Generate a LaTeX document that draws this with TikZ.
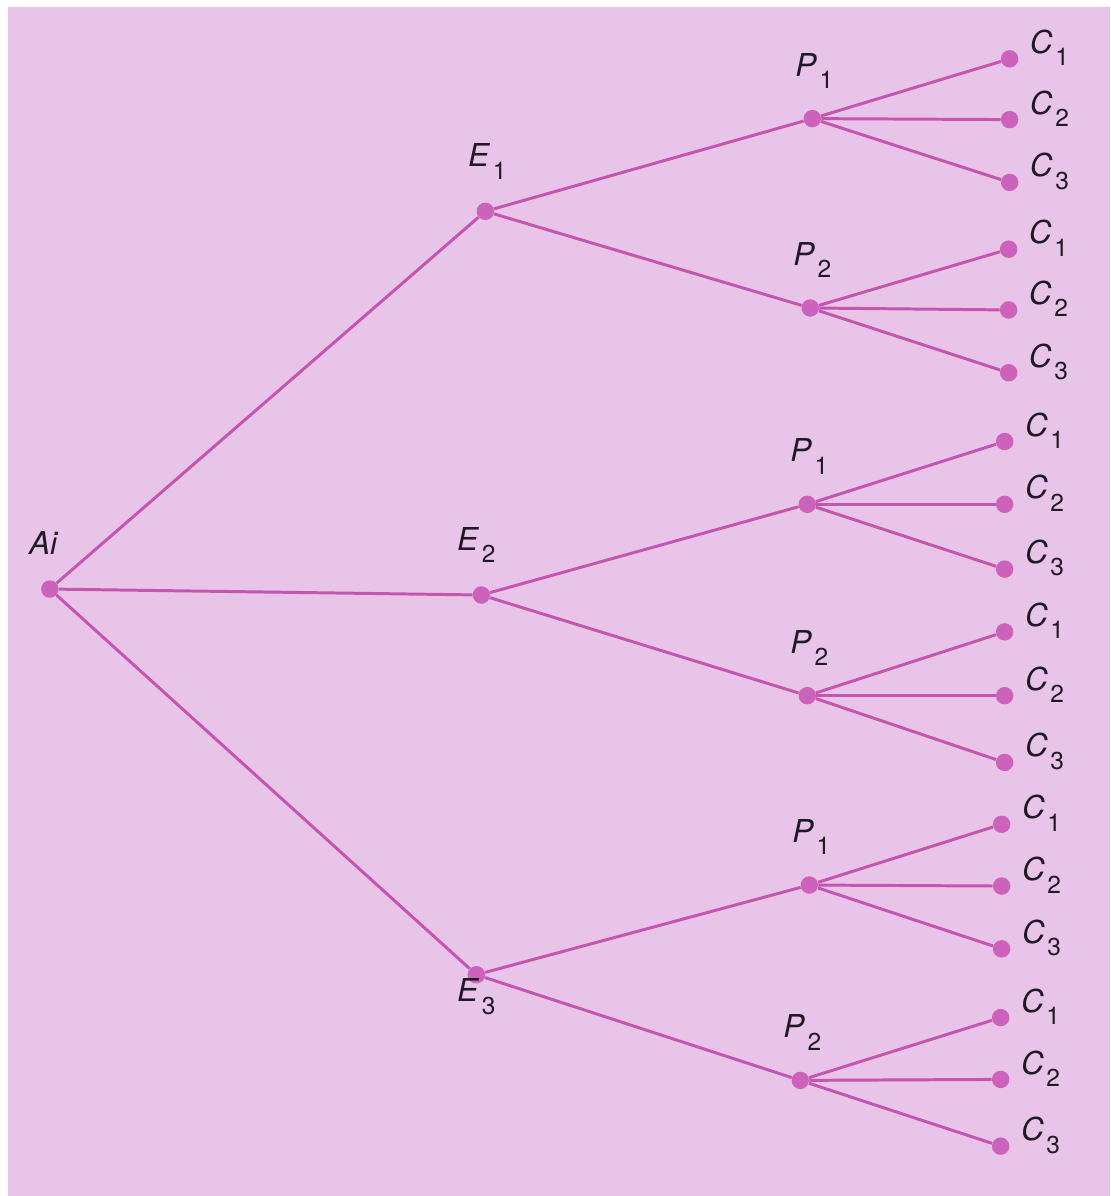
\documentclass[tikz,border=0pt]{standalone}
\usepackage{fontspec}
\setmainfont{TeX Gyre Heros}
\usepackage{tikz}
\usetikzlibrary{calc}
\definecolor{bgpink}{RGB}{232,196,232}
\definecolor{stem}{RGB}{196,86,176}
\definecolor{knob}{RGB}{204,98,186}
\definecolor{ink}{RGB}{30,25,35}
\newcommand{\tl}[2]{\textit{#1}\kern1.5pt\raisebox{-0.75ex}{\fontsize{14}{14}\selectfont #2}}

\begin{document}
\begin{tikzpicture}[x=0.02cm,y=-0.02cm,
    knot/.style={circle,fill=knob,inner sep=0pt,minimum size=0.35cm},
    branch/.style={stem,line width=1.7pt},
    lab/.style={text=ink,font=\fontsize{18}{21}\selectfont,inner sep=0pt}]
  % page with white strip on top and left
  \fill[white] (0,0) rectangle (1110,1196);
  \fill[bgpink] (8,7) rectangle (1114,1200);
  \useasboundingbox (0,0) rectangle (1110,1196);

  % root and first level
  \node[knot] (A) at (50,591) {};
  \node[knot] (E1) at (487,212) {};
  \node[knot] (E2) at (483,597) {};
  \node[knot] (E3) at (478,978) {};
  \draw[branch] (A) -- (E1);
  \draw[branch] (A) -- (E2);
  \draw[branch] (A) -- (E3);
  \node[lab] at ($(A)+(-6,-46)$) {\textit{Ai}};
  \node[lab] at ($(E1)+(2,-50)$) {\tl{E}{1}};
  \node[lab] at ($(E2)+(-5,-50)$) {\tl{E}{2}};
  \node[lab] at ($(E3)+(0,22)$) {\tl{E}{3}};

  % second level
  \foreach \n/\e/\k/\x/\y in {11/1/1/815/119, 12/1/2/813/309,
      21/2/1/810/506, 22/2/2/810/698, 31/3/1/812/888, 32/3/2/803/1084} {
    \node[knot] (P\n) at (\x,\y) {};
    \draw[branch] (E\e) -- (P\n);
    \node[lab] at ($(P\n)+(2,-48)$) {\tl{P}{\k}};
  }

  % leaves
  \foreach \n/\x/\ya/\yb/\yc in {11/1013/59/120/183, 12/1012/250/311/374,
      21/1008/443/506/571, 22/1008/634/698/765,
      31/1005/827/889/952, 32/1004/1021/1083/1150} {
    \node[knot] (C\n1) at (\x,\ya) {};
    \node[knot] (C\n2) at (\x,\yb) {};
    \node[knot] (C\n3) at (\x,\yc) {};
    \foreach \k in {1,2,3} {
      \draw[branch] (P\n) -- (C\n\k);
      \node[lab] at ($(C\n\k)+(40,-11)$) {\tl{C}{\k}};
    }
  }
\end{tikzpicture}
\end{document}
